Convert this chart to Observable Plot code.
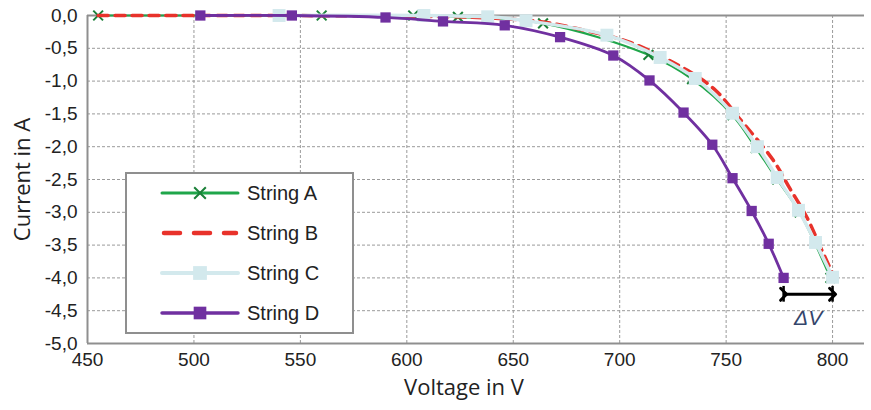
<!DOCTYPE html>
<html>
<head>
<meta charset="utf-8">
<script src="https://cdn.jsdelivr.net/npm/d3@7"></script>
<script src="https://cdn.jsdelivr.net/npm/@observablehq/plot@0.6"></script>
<style>
  html, body { margin: 0; padding: 0; background: #fff; }
  #chart svg { display: block; }
</style>
</head>
<body>
<div id="chart"></div>
<script>
// ---- data ----
const seriesNames = ["String A", "String B", "String C", "String D"];
const seriesColors = ["#1fa64a", "#e8322b", "#d3e9ed", "#7030a0"];

const voltA = [455, 560, 603, 624, 664, 713.5, 734, 753, 764, 774, 784.5, 799];
const currA = [0, 0, 0, -0.02, -0.12, -0.6, -0.97, -1.52, -2.02, -2.5, -3.0, -4.0];

const voltB = [455, 600, 640, 664, 688, 705, 732, 745, 756, 772, 780, 788, 795, 801];
const currB = [0, -0.01, -0.04, -0.1, -0.26, -0.41, -0.84, -1.14, -1.56, -2.2, -2.64, -3.08, -3.58, -4.0];

const voltC = [540, 608, 638, 656, 694, 719, 735.5, 753, 764.7, 774, 784, 792, 800];
const currC = [0, 0, -0.02, -0.08, -0.3, -0.64, -0.96, -1.49, -2.0, -2.47, -2.97, -3.46, -3.99];

const voltD = [503, 546, 590, 617, 646, 672, 697, 714, 730, 743.5, 753, 762, 770, 777];
const currD = [0, 0, -0.03, -0.09, -0.15, -0.33, -0.61, -0.99, -1.48, -1.97, -2.48, -2.98, -3.48, -4.0];

const xTicks = [450, 500, 550, 600, 650, 700, 750, 800];
const yTicks = [0, -0.5, -1, -1.5, -2, -2.5, -3, -3.5, -4, -4.5, -5];

// ΔV annotation: between String D and String C at -4 A
const deltaV = [{v1: 777, v2: 800, i: -4.25}];
const deltaLabel = [{v: 788.5, i: -4.62, text: "ΔV"}];

const xLabel = "Voltage in V";
const yLabel = "Current in A";

// ---- build rows ----
const rows = (vs, is) => vs.map((v, k) => ({v, i: is[k]}));
const rowsA = rows(voltA, currA);
const rowsB = rows(voltB, currB);
const rowsC = rows(voltC, currC);
const rowsD = rows(voltD, currD);

const fmt = d => (Math.abs(d) < 1e-9 ? 0 : d).toFixed(1).replace(".", ",");
const gridStyle = {stroke: "#9a9a9a", strokeOpacity: 1, strokeWidth: 1, strokeDasharray: "3,2"};
const frameColor = "#8f8f8f";

const chart = Plot.plot({
  width: 871,
  height: 410,
  marginLeft: 87,
  marginRight: 7,
  marginTop: 15,
  marginBottom: 67,
  style: {fontFamily: "'Liberation Sans', Arial, sans-serif", fontSize: "19px", color: "#222", background: "#fff"},
  x: {domain: [450, 815]},
  y: {domain: [-5, 0]},
  marks: [
    Plot.ruleX(xTicks.filter(v => v !== 450), {...gridStyle}),
    Plot.ruleY(yTicks.filter(v => v !== 0 && v !== -5), {...gridStyle}),
    Plot.ruleY([0, -5], {stroke: frameColor, strokeWidth: 2}),
    Plot.ruleX([450], {stroke: frameColor, strokeWidth: 2}),
    Plot.axisX(xTicks, {tickSize: 0, tickPadding: 9, label: null, fontSize: 19, fill: "#222"}),
    Plot.axisY(yTicks, {tickSize: 0, tickPadding: 10, label: null, tickFormat: fmt, fontSize: 19, fill: "#222"}),
    Plot.text([xLabel], {frameAnchor: "bottom", dx: -12, dy: 51, fontSize: 22, fontFamily: "'Open Sans', sans-serif", fill: "#222"}),
    Plot.text([yLabel], {frameAnchor: "left", textAnchor: "middle", rotate: -90, dx: -65, fontSize: 22, fontFamily: "'Open Sans', sans-serif", fill: "#222"}),
    // String A
    Plot.line(rowsA, {x: "v", y: "i", stroke: seriesColors[0], strokeWidth: 2.2, curve: "catmull-rom"}),
    Plot.dot(rowsA, {x: "v", y: "i", symbol: "times", r: 4.5, stroke: "#1a8038", strokeWidth: 2}),
    // String B
    Plot.line(rowsB, {x: "v", y: "i", stroke: seriesColors[1], strokeWidth: 3.5, strokeDasharray: "10,7", curve: "catmull-rom"}),
    // String C
    Plot.line(rowsC, {x: "v", y: "i", stroke: seriesColors[2], strokeWidth: 3.5, curve: "catmull-rom"}),
    Plot.dot(rowsC, {x: "v", y: "i", symbol: "square", r: 7.3, fill: seriesColors[2], stroke: "none"}),
    // String D
    Plot.line(rowsD, {x: "v", y: "i", stroke: seriesColors[3], strokeWidth: 2.8, curve: "catmull-rom"}),
    Plot.dot(rowsD, {x: "v", y: "i", symbol: "square", r: 5.8, fill: seriesColors[3], stroke: "none"}),
    // ΔV annotation
    Plot.link(deltaV, {x1: "v1", x2: "v2", y1: "i", y2: "i", stroke: "#000", strokeWidth: 3, markerStart: "arrow", markerEnd: "arrow"}),
    Plot.ruleX(deltaV, {x: "v1", y1: d => d.i + 0.12, y2: d => d.i - 0.12, stroke: "#000", strokeWidth: 2.5}),
    Plot.ruleX(deltaV, {x: "v2", y1: d => d.i + 0.12, y2: d => d.i - 0.12, stroke: "#000", strokeWidth: 2.5}),
    Plot.text(deltaLabel, {x: "v", y: "i", text: "text", fontSize: 21, fontStyle: "italic", fill: "#34456b", fontFamily: "'Liberation Sans', Arial, sans-serif"})
  ]
});

document.getElementById("chart").appendChild(chart);

// ---- legend (drawn inside the SVG, boxed like the reference) ----
const svg = d3.select(chart);
const lg = svg.append("g").attr("transform", "translate(126,173)");
lg.append("rect").attr("width", 227).attr("height", 160)
  .attr("fill", "#fff").attr("stroke", frameColor).attr("stroke-width", 2);
const legendSpec = [
  {line: {stroke: seriesColors[0], width: 3}, marker: {type: d3.symbolTimes, size: 90, fill: "none", stroke: "#1a8038", sw: 2}},
  {line: {stroke: seriesColors[1], width: 4.5, dash: "16,14"}, marker: null},
  {line: {stroke: seriesColors[2], width: 4}, marker: {type: d3.symbolSquare, size: 190, fill: seriesColors[2], stroke: "none", sw: 0}},
  {line: {stroke: seriesColors[3], width: 3.5}, marker: {type: d3.symbolSquare, size: 160, fill: seriesColors[3], stroke: "none", sw: 0}}
];
seriesNames.forEach((name, k) => {
  const y = 20 + k * 40;
  const spec = legendSpec[k];
  const l = lg.append("line").attr("x1", 36).attr("x2", 112).attr("y1", y).attr("y2", y)
    .attr("stroke", spec.line.stroke).attr("stroke-width", spec.line.width).attr("stroke-linecap", "round");
  if (spec.line.dash) l.attr("x1", 38).attr("x2", 110).attr("stroke-dasharray", spec.line.dash);
  if (spec.marker) {
    lg.append("path").attr("transform", `translate(74,${y})`)
      .attr("d", d3.symbol(spec.marker.type, spec.marker.size)())
      .attr("fill", spec.marker.fill).attr("stroke", spec.marker.stroke).attr("stroke-width", spec.marker.sw);
  }
  lg.append("text").attr("x", 121).attr("y", y).attr("dy", "0.35em")
    .attr("text-anchor", "start")
    .attr("font-size", 20).attr("fill", "#222")
    .attr("font-family", "'Liberation Sans', Arial, sans-serif").text(name);
});
</script>
</body>
</html>
